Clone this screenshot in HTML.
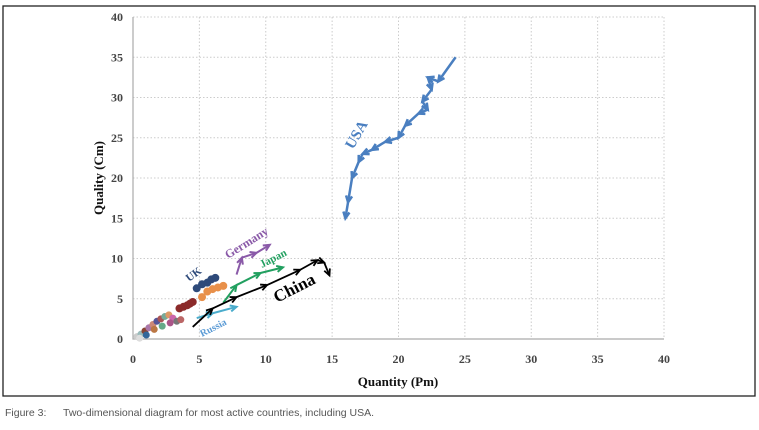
<!DOCTYPE html>
<html><head><meta charset="utf-8"><style>
body{margin:0;background:#fff;width:759px;height:430px;overflow:hidden}
svg{display:block}
</style></head><body>
<svg id="chart" width="759" height="430" xmlns="http://www.w3.org/2000/svg">
<rect x="3" y="6" width="752" height="390" fill="#fff" stroke="#222" stroke-width="1.3"/>
<g id="grid"></g><g id="axes"></g><g id="series"></g>
<text x="398" y="386" text-anchor="middle" font-family="Liberation Serif, serif" font-weight="bold" font-size="13" fill="#111">Quantity (Pm)</text>
<text transform="translate(103,178) rotate(-90)" text-anchor="middle" font-family="Liberation Serif, serif" font-weight="bold" font-size="13" fill="#111">Quality (Cm)</text>
<text x="5" y="416" font-family="Liberation Sans, sans-serif" font-size="10.5" fill="#555">Figure 3:</text>
<text x="63" y="416" font-family="Liberation Sans, sans-serif" font-size="10.5" fill="#555">Two-dimensional diagram for most active countries, including USA.</text>
</svg>
<script>
const xTicks=[0,5,10,15,20,25,30,35,40];
const yTicks=[0,5,10,15,20,25,30,35,40];
const usaX=[24.3,23.0,22.2,22.5,21.8,22.2,21.5,20.5,20.0,19.0,18.0,17.3,17.0,16.5,16.2,16.0];
const usaY=[35.0,32.0,32.5,31.0,29.5,28.5,28.0,26.5,25.0,24.5,23.5,23.0,22.0,20.0,17.0,15.0];
const chinaX=[4.5,6.0,7.8,10.1,12.6,13.9,14.4,14.8];
const chinaY=[1.5,3.8,5.2,6.7,8.6,9.8,9.5,7.9];
const japanX=[6.8,7.8,9.6,11.3];
const japanY=[4.5,6.7,8.2,8.9];
const germanyX=[7.8,8.2,9.3,10.3];
const germanyY=[8.0,10.1,10.7,11.7];
const russiaX=[4.8,6.0,7.8];
const russiaY=[2.6,3.2,4.0];
const ukX=[4.8,5.2,5.6,5.9,6.2];
const ukY=[6.3,6.8,7.0,7.4,7.6];
const orangeX=[5.2,5.6,6.0,6.4,6.8];
const orangeY=[5.2,5.9,6.2,6.4,6.6];
const redX=[3.5,3.8,4.1,4.3,4.5];
const redY=[3.8,4.0,4.2,4.4,4.6];
const clusterX=[0.3,0.6,0.9,1.2,1.5,1.8,2.1,2.4,2.7,3.0,3.3,1.0,1.6,2.2,2.8,0.5,3.6];
const clusterY=[0.3,0.6,1.0,1.4,1.8,2.2,2.5,2.8,3.0,2.6,2.2,0.5,1.2,1.6,2.0,0.1,2.4];
const clusterC=["#ccc","#9bb","#843","#a7a","#c87","#559","#a55","#7a9","#d96","#c6a","#777","#369","#b74","#6a8","#a58","#ddd","#b66"];
const X0=133,X1=664,Y0=339,Y1=17;
const sx=v=>X0+(X1-X0)*v/40, sy=v=>Y0-(Y0-Y1)*v/40;
const NS="http://www.w3.org/2000/svg";
function mk(tag,attrs,parent){const e=document.createElementNS(NS,tag);for(const k in attrs)e.setAttribute(k,attrs[k]);parent.appendChild(e);return e;}
const grid=document.getElementById('grid'),axes=document.getElementById('axes'),ser=document.getElementById('series');
xTicks.forEach(t=>{if(t>0){const l=mk('line',{x1:sx(t),x2:sx(t),y1:Y1,y2:Y0,stroke:'#ccc','stroke-dasharray':'1.5,2'},grid);

}
const tx=mk('text',{x:sx(t),y:363,'text-anchor':'middle','font-family':'Liberation Serif, serif','font-weight':'bold','font-size':'12',fill:'#444'},axes);tx.textContent=t;

});
yTicks.forEach(t=>{if(t>0){const l=mk('line',{x1:X0,x2:X1,y1:sy(t),y2:sy(t),stroke:'#ccc','stroke-dasharray':'1.5,2'},grid);

}
const tx=mk('text',{x:123,y:sy(t)+4,'text-anchor':'end','font-family':'Liberation Serif, serif','font-weight':'bold','font-size':'12',fill:'#444'},axes);tx.textContent=t;

});
const ax=mk('path',{d:`M${X0},${Y1}V${Y0}H${X1}`,fill:'none',stroke:'#aaa','stroke-width':1.2},axes);


function arrowLine(xs,ys,color,w,name){
  const g=mk('g',{},ser);
  
  
  let d='';xs.forEach((x,i)=>{d+=(i?'L':'M')+sx(x)+','+sy(ys[i]);});
  mk('path',{d,fill:'none',stroke:color,'stroke-width':w,'stroke-linejoin':'round'},g);
  for(let i=1;i<xs.length;i++){
    const x2=sx(xs[i]),y2=sy(ys[i]),x1=sx(xs[i-1]),y1=sy(ys[i-1]);
    const a=Math.atan2(y2-y1,x2-x1),L=7;
    const p1=[x2-L*Math.cos(a-0.45),y2-L*Math.sin(a-0.45)],p2=[x2-L*Math.cos(a+0.45),y2-L*Math.sin(a+0.45)];
    mk('path',{d:`M${p1}L${x2},${y2}L${p2}`,fill:'none',stroke:color,'stroke-width':w},g);
  }
}
function dots(xs,ys,color,r,name){
  const g=mk('g',{},ser);
  
  
  xs.forEach((x,i)=>{const c=Array.isArray(color)?color[i]:color;mk('circle',{cx:sx(x),cy:sy(ys[i]),r,fill:c},g);});
}
dots(clusterX,clusterY,clusterC,3.5,'small-countries-cluster');
dots(redX,redY,'#8b2a2a',4,'dark-red-series');
dots(ukX,ukY,'#2e4a7a',4,'uk-series');
dots(orangeX,orangeY,'#e8904a',4,'orange-series');
arrowLine(russiaX,russiaY,'#4aaccc',2,'russia-series');
arrowLine(germanyX,germanyY,'#8a5aa8',2,'germany-series');
arrowLine(japanX,japanY,'#22a060',2,'japan-series');
arrowLine(chinaX,chinaY,'#000',1.8,'china-series');
arrowLine(usaX,usaY,'#4a7fc0',2.5,'usa-series');
const labels=[["USA",353,150,-60,'#4a7fc0',15,'usa-label'],["UK",189,282,-36,'#2e4a7a',11,'uk-label'],["Germany",228,259,-32,'#8a5aa8',12,'germany-label'],["Japan",262,268,-27,'#22a060',11,'japan-label'],["China",277,303,-27,'#000',17,'china-label'],["Russia",202,337,-27,'#5b9bd5',10,'russia-label']];
labels.forEach(l=>{const t=mk('text',{transform:`translate(${l[1]},${l[2]}) rotate(${l[3]})`,'font-family':'Liberation Serif, serif','font-weight':'bold','font-size':l[5],fill:l[4]},ser);t.textContent=l[0];

});
</script>
</body></html>
